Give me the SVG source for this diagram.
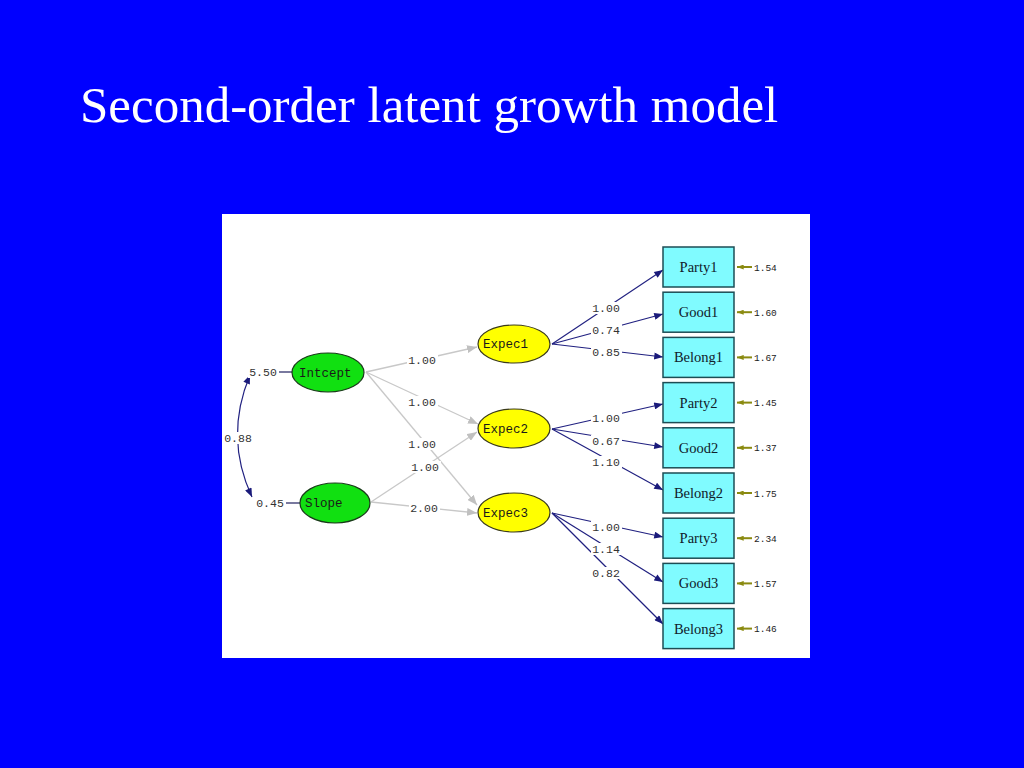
<svg xmlns="http://www.w3.org/2000/svg" width="1024" height="768" viewBox="0 0 1024 768">
<defs>
<style>
.title{font-family:"Liberation Serif","Times New Roman",serif;font-size:51px;fill:#ffffff}
.num{font-family:"Liberation Mono","Courier New",monospace;font-size:11.5px;fill:#333333;text-anchor:middle}
.err{font-family:"Liberation Mono","Courier New",monospace;font-size:9.5px;fill:#222222}
.lv{font-family:"Liberation Mono","Courier New",monospace;font-size:12.5px;fill:#1a1a1a}
.box{fill:#80fbff;stroke:#1d4d55;stroke-width:1.5}
.boxt{font-family:"Liberation Serif","Times New Roman",serif;font-size:14.5px;fill:#10202a;text-anchor:middle}
.gray{stroke:#c8c8c8;stroke-width:1.3;fill:none;marker-end:url(#ag)}
.navy{stroke:#202080;stroke-width:1.2;fill:none;marker-end:url(#an)}
.olive{stroke:#8a8a10;stroke-width:2;fill:none;marker-end:url(#ao)}
.bg{fill:#ffffff}
</style>
<marker id="ag" viewBox="0 0 10 8" refX="10" refY="4" markerWidth="10" markerHeight="8" markerUnits="userSpaceOnUse" orient="auto"><path d="M0,0 L10,4 L0,8 Z" fill="#c0c0c0"/></marker>
<marker id="an" viewBox="0 0 10 8" refX="10" refY="4" markerWidth="10" markerHeight="7" markerUnits="userSpaceOnUse" orient="auto"><path d="M0,0 L10,4 L0,8 Z" fill="#1a1a7a"/></marker>
<marker id="an2" viewBox="0 0 10 8" refX="10" refY="4" markerWidth="10" markerHeight="7" markerUnits="userSpaceOnUse" orient="auto-start-reverse"><path d="M0,0 L10,4 L0,8 Z" fill="#1a1a7a"/></marker>
<marker id="ao" viewBox="0 0 8 6" refX="8" refY="3" markerWidth="7" markerHeight="5" markerUnits="userSpaceOnUse" orient="auto"><path d="M0,0 L8,3 L0,6 Z" fill="#8a8a10"/></marker>
</defs>
<rect x="0" y="0" width="1024" height="768" fill="#0000ff"/>
<text class="title" x="80" y="122">Second-order latent growth model</text>
<rect x="222" y="214" width="588" height="444" fill="#ffffff"/>

<g id="connectors">
<line x1="279" y1="372" x2="292" y2="372" stroke="#202060" stroke-width="1.2"/>
<line x1="286" y1="503" x2="300" y2="503" stroke="#202060" stroke-width="1.2"/>
<path d="M250,375 Q224,437 252,497" stroke="#202080" stroke-width="1.2" fill="none" marker-start="url(#an2)" marker-end="url(#an)"/>
<line class="gray" x1="366" y1="372" x2="477" y2="347"/>
<line class="gray" x1="366" y1="372" x2="478" y2="424"/>
<line class="gray" x1="366" y1="372" x2="477" y2="505"/>
<line class="gray" x1="371" y1="502" x2="477" y2="432"/>
<line class="gray" x1="371" y1="502" x2="477" y2="513"/>
<line class="navy" x1="552" y1="344" x2="663" y2="270"/>
<line class="navy" x1="552" y1="344" x2="663" y2="314"/>
<line class="navy" x1="552" y1="344" x2="663" y2="357"/>
<line class="navy" x1="552" y1="429" x2="663" y2="404"/>
<line class="navy" x1="552" y1="429" x2="663" y2="447"/>
<line class="navy" x1="552" y1="429" x2="663" y2="490"/>
<line class="navy" x1="552" y1="513" x2="663" y2="537"/>
<line class="navy" x1="552" y1="513" x2="663" y2="582"/>
<line class="navy" x1="552" y1="513" x2="663" y2="624"/>
<line class="olive" x1="752" y1="267" x2="737" y2="267"/>
<line class="olive" x1="752" y1="312.2" x2="737" y2="312.2"/>
<line class="olive" x1="752" y1="357.4" x2="737" y2="357.4"/>
<line class="olive" x1="752" y1="402.6" x2="737" y2="402.6"/>
<line class="olive" x1="752" y1="447.8" x2="737" y2="447.8"/>
<line class="olive" x1="752" y1="493" x2="737" y2="493"/>
<line class="olive" x1="752" y1="538.2" x2="737" y2="538.2"/>
<line class="olive" x1="752" y1="583.4" x2="737" y2="583.4"/>
<line class="olive" x1="752" y1="628.6" x2="737" y2="628.6"/>
</g>

<g id="labels">
<rect class="bg" x="248" y="366" width="30" height="12"/><text class="num" x="263" y="376">5.50</text>
<rect class="bg" x="255" y="497" width="30" height="12"/><text class="num" x="270" y="507">0.45</text>
<rect class="bg" x="223" y="432" width="30" height="12"/><text class="num" x="238" y="442">0.88</text>
<rect class="bg" x="407" y="354" width="31" height="12"/><text class="num" x="422" y="364">1.00</text>
<rect class="bg" x="407" y="396" width="31" height="12"/><text class="num" x="422" y="406">1.00</text>
<rect class="bg" x="407" y="438" width="31" height="12"/><text class="num" x="422" y="448">1.00</text>
<rect class="bg" x="410" y="461" width="31" height="12"/><text class="num" x="425" y="471">1.00</text>
<rect class="bg" x="409" y="502" width="31" height="12"/><text class="num" x="424" y="512">2.00</text>
<rect class="bg" x="591" y="302" width="31" height="12"/><text class="num" x="606" y="312">1.00</text>
<rect class="bg" x="591" y="324" width="31" height="12"/><text class="num" x="606" y="334">0.74</text>
<rect class="bg" x="591" y="346" width="31" height="12"/><text class="num" x="606" y="356">0.85</text>
<rect class="bg" x="591" y="412" width="31" height="12"/><text class="num" x="606" y="422">1.00</text>
<rect class="bg" x="591" y="435" width="31" height="12"/><text class="num" x="606" y="445">0.67</text>
<rect class="bg" x="591" y="456" width="31" height="12"/><text class="num" x="606" y="466">1.10</text>
<rect class="bg" x="591" y="521" width="31" height="12"/><text class="num" x="606" y="531">1.00</text>
<rect class="bg" x="591" y="543" width="31" height="12"/><text class="num" x="606" y="553">1.14</text>
<rect class="bg" x="591" y="567" width="31" height="12"/><text class="num" x="606" y="577">0.82</text>
<text class="err" x="754" y="270.5">1.54</text>
<text class="err" x="754" y="315.7">1.60</text>
<text class="err" x="754" y="360.9">1.67</text>
<text class="err" x="754" y="406.1">1.45</text>
<text class="err" x="754" y="451.3">1.37</text>
<text class="err" x="754" y="496.5">1.75</text>
<text class="err" x="754" y="541.7">2.34</text>
<text class="err" x="754" y="586.9">1.57</text>
<text class="err" x="754" y="632.1">1.46</text>
</g>

<g id="Intcept"><ellipse cx="328" cy="372.5" rx="36" ry="19.5" fill="#11e011" stroke="#1a3a1a" stroke-width="1.2"/><text class="lv" x="299" y="376.5">Intcept</text></g>
<g id="Slope"><ellipse cx="335" cy="503" rx="35" ry="20" fill="#11e011" stroke="#1a3a1a" stroke-width="1.2"/><text class="lv" x="305" y="507">Slope</text></g>
<g id="Expec1"><ellipse cx="514" cy="344" rx="36" ry="19" fill="#ffff00" stroke="#3a3a1a" stroke-width="1.2"/><text class="lv" x="483" y="348">Expec1</text></g>
<g id="Expec2"><ellipse cx="514" cy="428.5" rx="36" ry="19.5" fill="#ffff00" stroke="#3a3a1a" stroke-width="1.2"/><text class="lv" x="483" y="432.5">Expec2</text></g>
<g id="Expec3"><ellipse cx="514" cy="512.5" rx="36" ry="19.5" fill="#ffff00" stroke="#3a3a1a" stroke-width="1.2"/><text class="lv" x="483" y="516.5">Expec3</text></g>

<g id="Party1"><rect class="box" x="663" y="247" width="71" height="40"/><text class="boxt" x="698.5" y="272">Party1</text></g>
<g id="Good1"><rect class="box" x="663" y="292.2" width="71" height="40"/><text class="boxt" x="698.5" y="317.2">Good1</text></g>
<g id="Belong1"><rect class="box" x="663" y="337.4" width="71" height="40"/><text class="boxt" x="698.5" y="362.4">Belong1</text></g>
<g id="Party2"><rect class="box" x="663" y="382.6" width="71" height="40"/><text class="boxt" x="698.5" y="407.6">Party2</text></g>
<g id="Good2"><rect class="box" x="663" y="427.8" width="71" height="40"/><text class="boxt" x="698.5" y="452.8">Good2</text></g>
<g id="Belong2"><rect class="box" x="663" y="473" width="71" height="40"/><text class="boxt" x="698.5" y="498">Belong2</text></g>
<g id="Party3"><rect class="box" x="663" y="518.2" width="71" height="40"/><text class="boxt" x="698.5" y="543.2">Party3</text></g>
<g id="Good3"><rect class="box" x="663" y="563.4" width="71" height="40"/><text class="boxt" x="698.5" y="588.4">Good3</text></g>
<g id="Belong3"><rect class="box" x="663" y="608.6" width="71" height="40"/><text class="boxt" x="698.5" y="633.6">Belong3</text></g>
</svg>
